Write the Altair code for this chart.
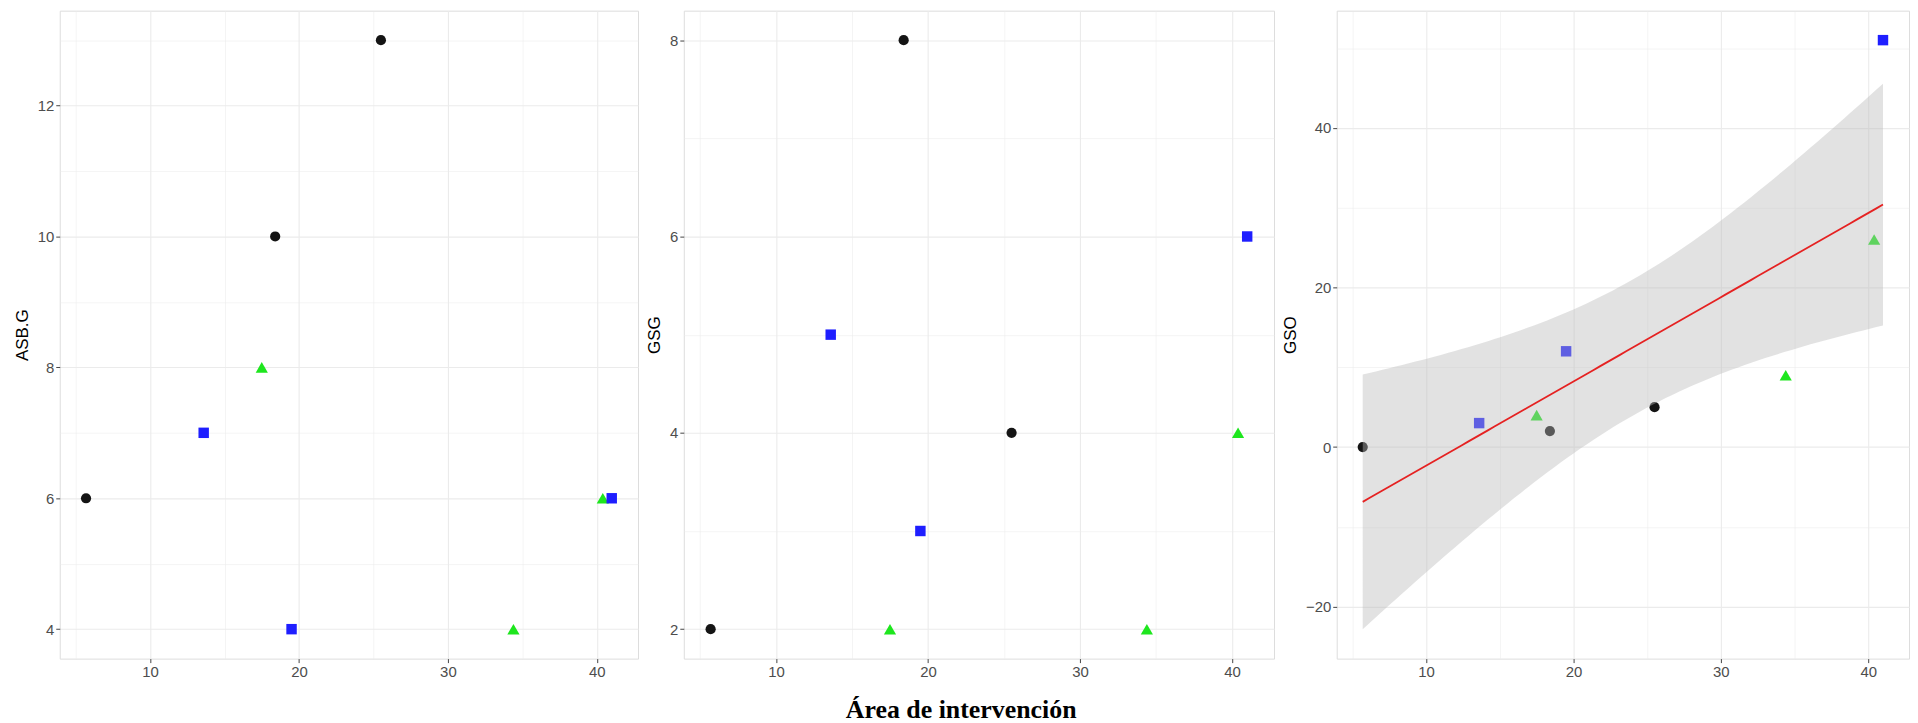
import numpy as np
import pandas as pd
import altair as alt

# ---- data ----
area = [5.7, 18.4, 25.5, 13.6, 19.5, 41.0, 17.5, 34.4, 40.4]
grupo = ["G1", "G1", "G1", "G2", "G2", "G2", "G3", "G3", "G3"]
asb_g = [6, 10, 13, 7, 4, 6, 8, 4, 6]
gsg = [2, 8, 4, 5, 3, 6, 2, 2, 4]
gso = [0, 2, 5, 3, 12, 51, 4, 9, 26]

# drawing order: circles, triangles, squares
group_names = ["G1", "G3", "G2"]
group_shapes = ["circle", "triangle-up", "square"]
group_colors = ["#141414", "#1ee61e", "#1e1eff"]
group_sizes = [105, 150, 110]

x_major = [10, 20, 30, 40]
x_minor = [5, 15, 25, 35]
y1_major = [4, 6, 8, 10, 12]
y1_minor = [5, 7, 9, 11, 13]
y2_major = [2, 4, 6, 8]
y2_minor = [3, 5, 7]
y3_major = [-20, 0, 20, 40]
y3_minor = [-10, 10, 30, 50]

df = pd.DataFrame({"area": area, "grupo": grupo, "asb_g": asb_g, "gsg": gsg, "gso": gso})

# ---- linear fit + 95% confidence band (as geom_smooth(method="lm")) ----
xv = np.array(area, dtype=float)
yv = np.array(gso, dtype=float)
n = len(xv)
xbar, ybar = xv.mean(), yv.mean()
sxx = ((xv - xbar) ** 2).sum()
slope = ((xv - xbar) * (yv - ybar)).sum() / sxx
icpt = ybar - slope * xbar
resid = yv - (icpt + slope * xv)
s = np.sqrt((resid ** 2).sum() / (n - 2))
t975 = 2.364624  # t quantile, df = 7
xs = np.linspace(xv.min(), xv.max(), 80)
fit = icpt + slope * xs
se = s * np.sqrt(1.0 / n + (xs - xbar) ** 2 / sxx)
band = pd.DataFrame({"area": xs, "fit": fit, "lo": fit - t975 * se, "hi": fit + t975 * se})


def expand(lo, hi, m=0.05):
    d = (hi - lo) * m
    return [lo - d, hi + d]


x_dom = expand(min(area), max(area))
y1_dom = expand(min(asb_g), max(asb_g))
y2_dom = expand(min(gsg), max(gsg))
y3_dom = expand(min(min(gso), band["lo"].min()), max(max(gso), band["hi"].max()))

LABEL_FONT = "Liberation Sans"


def cond(test, a, b):
    return {"condition": {"test": test, "value": a}, "value": b}


def make_axis(title, major, minor, test):
    kw = dict(
        values=sorted(major + minor),
        labelExpr=f"({test}) ? datum.label : ''",
        tickOpacity=cond(test, 1, 0),
        gridWidth=cond(test, 1.1, 0.55),
        gridColor="#ebebeb",
        domain=False,
        tickSize=4,
        tickColor="#444444",
        labelPadding=2,
        labelFont=LABEL_FONT,
        labelFontSize=15,
        labelColor="#4d4d4d",
        labelOverlap=False,
        titleFont=LABEL_FONT,
        titleFontSize=17,
        titleFontWeight="normal",
        titleColor="#000000",
        titlePadding=6,
    )
    return alt.Axis(title=title, **kw)


x_axis = make_axis(None, x_major, x_minor, "datum.value % 10 == 0")
x_enc = alt.X("area:Q", scale=alt.Scale(domain=x_dom, nice=False, zero=False), axis=x_axis)


def scatter_layers(col, title, dom, major, minor, test):
    y_enc = alt.Y(f"{col}:Q", scale=alt.Scale(domain=dom, nice=False, zero=False),
                  axis=make_axis(title, major, minor, test))
    layers = []
    for g, shp, colr, sz in zip(group_names, group_shapes, group_colors, group_sizes):
        layers.append(
            alt.Chart(df).transform_filter(alt.datum.grupo == g)
            .mark_point(filled=True, opacity=1, strokeWidth=0, shape=shp, color=colr, size=sz)
            .encode(x=x_enc, y=y_enc)
        )
    return layers


p1 = alt.layer(*scatter_layers("asb_g", "ASB.G", y1_dom, y1_major, y1_minor,
                               "datum.value % 2 == 0")).properties(width=581, height=651)
p2 = alt.layer(*scatter_layers("gsg", "GSG", y2_dom, y2_major, y2_minor,
                               "datum.value % 2 == 0")).properties(width=593, height=651)

pts3 = scatter_layers("gso", "GSO", y3_dom, y3_major, y3_minor, "datum.value % 20 == 0")
y3_scale = alt.Scale(domain=y3_dom, nice=False, zero=False)
ribbon = alt.Chart(band).mark_area(color="#bbbbbb", opacity=0.42).encode(
    x=alt.X("area:Q"), y=alt.Y("lo:Q", scale=y3_scale), y2="hi:Q"
)
line = alt.Chart(band).mark_line(color="#e52222", strokeWidth=1.8).encode(
    x=alt.X("area:Q"), y=alt.Y("fit:Q", scale=y3_scale)
)
p3 = alt.layer(*pts3, ribbon, line).properties(width=575, height=651)

chart = alt.hconcat(p1, p2, p3, spacing=6).properties(
    title=alt.TitleParams(
        "Área de intervención", orient="bottom", anchor="middle",
        font="Liberation Serif", fontSize=26, fontWeight="bold", color="#000000", offset=17,
    ),
    padding={"left": 4, "top": 0, "right": 0, "bottom": 0},
).configure_view(stroke="#8a8a8a", strokeWidth=1.3).configure(background="white")

chart.save("out.html", embed_options={"renderer": "svg", "actions": False})
